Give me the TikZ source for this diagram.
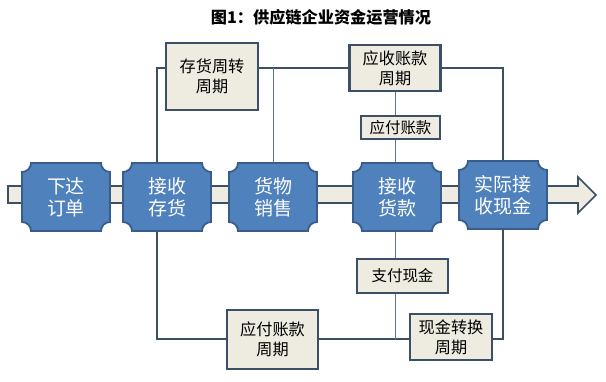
\documentclass[tikz,border=0pt]{standalone}
\usepackage{fontspec}
\setmainfont{Noto Sans CJK SC}
\usepackage{tikz}
\usetikzlibrary{backgrounds}

\definecolor{stageblue}{HTML}{4F81BD}
\definecolor{stageedge}{HTML}{385D8A}
\definecolor{paper}{HTML}{EEECE1}
\definecolor{ink}{HTML}{3B4F66}
\definecolor{tieblue}{HTML}{5F7792}

\begin{document}
\begin{tikzpicture}[x=0.025cm, y=-0.025cm]

  \tikzset{stage/.style={fill=stageblue, draw=stageedge, line width=1.3pt},
           stagetext/.style={text=white, align=center,
                             font=\fontsize{13.5}{15.5}\selectfont},
           cyc/.style={draw=ink, fill=paper, line width=1.5pt, inner sep=0pt,
                       align=center, font=\fontsize{11.5}{14}\selectfont},
           loopline/.style={draw=ink, line width=1.4pt},
           tie/.style={draw=tieblue, line width=0.7pt}}

  \useasboundingbox (0,0) rectangle (606,382);

  \node[font=\fontsize{11.5}{14}\selectfont\bfseries] (title) at (321,17)
    {图1：供应链企业资金运营情况};

  % the cash flow band
  \draw[fill=paper, draw=ink, line width=1.2pt]
    (8,186) -- (578,186) -- (578,177) -- (596,195) -- (578,213)
    -- (578,203) -- (8,203) -- cycle;

  % stages along the band
  \foreach \t/\x/\y/\n in {{下达\\订单}/66/197/order,
                           {接收\\存货}/167/197/stock,
                           {货物\\销售}/273/197/sale,
                           {接收\\货款}/397/197/recv,
                           {实际接\\收现金}/503/195/cash} {
    \draw[stage] (\x-44,\y-25) arc (90:0:9) -- (\x+35,\y-34) arc (180:90:9)
      -- (\x+44,\y+25) arc (270:180:9) -- (\x-35,\y+34) arc (0:-90:9) -- cycle;
    \node[stagetext] (\n) at (\x,\y) {\t};
  }

  % cycle boxes
  \node[cyc, minimum width=2.3cm, minimum height=1.675cm] (invcyc) at (212,76.5)
    {存货周转\\周期};
  \node[cyc, minimum width=2.275cm, minimum height=1.15cm] (arcyc) at (395,68)
    {应收账款\\周期};
  \node[cyc, minimum width=1.975cm, minimum height=0.575cm,
        font=\fontsize{11}{13}\selectfont] (ap) at (400.5,127.5) {应付账款};
  \node[cyc, minimum width=2.275cm, minimum height=0.85cm,
        font=\fontsize{11}{13}\selectfont] (paycash) at (402.5,276) {支付现金};
  \node[cyc, minimum width=2.275cm, minimum height=1.475cm] (apcyc) at (272.5,339.5)
    {应付账款\\周期};
  \node[cyc, minimum width=2.05cm, minimum height=1.15cm] (cashcyc) at (451,337)
    {现金转换\\周期};

  \coordinate (tl) at (157,68);
  \coordinate (br) at (503,339);

  \begin{scope}[on background layer]
    \draw[loopline] (tl) rectangle (br);
    \draw[tie] (sale.north) -- (sale.north |- tl);
    \draw[tie] (arcyc.south) -- (arcyc.south |- br);
  \end{scope}

\end{tikzpicture}
\end{document}
